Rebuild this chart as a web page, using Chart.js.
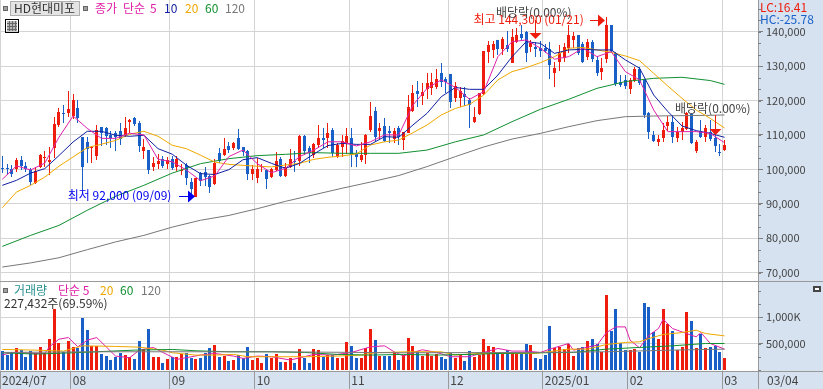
<!DOCTYPE html>
<html>
<head>
<meta charset="utf-8">
<title>HD현대미포</title>
<style>
html, body { margin: 0; padding: 0; background: #fff; overflow: hidden; }
canvas { display: block; }
</style>
<script src="https://cdn.jsdelivr.net/npm/chart.js@4"></script>
</head>
<body>
<canvas id="chart" width="823" height="389"></canvas>
<script>
const monthStarts = [0, 15, 36, 54, 74, 95, 115, 133, 153];
const monthLabels = ['2024/07', '08', '09', '10', '11', '12', '2025/01', '02', '03'];
const lastDate = '03/04';

const opens = [
  100500, 100400, 100200, 100000, 102700, 101000, 99800, 96150, 100600, 103400,
  102050, 106100, 112900, 116500, 116500, 115500, 117750, 109300, 108050, 106100,
  103900, 112400, 111900, 110000, 110700, 111000, 110000, 113800, 115000, 113350,
  105300, 105500, 100700, 101450, 103100, 101650, 102900, 100700, 99700, 101260,
  96400, 92100, 99000, 99300, 98060, 95640, 104650, 104260, 106800, 106100,
  109000, 106400, 105300, 98550, 97400, 100700, 99900, 97900, 99800, 103000,
  98200, 100800, 102400, 102400, 109700, 106100, 104200, 107100, 109000, 109200,
  111400, 103700, 106600, 107550, 109000, 104460, 102700, 104170, 111400, 117000,
  111150, 112600, 111200, 108700, 111900, 108500, 110650, 117000, 122800, 121400,
  123250, 123500, 123800, 127900, 126150, 127700, 120650, 120650, 121900, 120150,
  113750, 116000, 121800, 134000, 134700, 137600, 134900, 136150, 131000, 136900,
  139250, 140000, 135650, 135650, 135350, 135350, 134900, 127900, 131300, 132500,
  135400, 137600, 139050, 136300, 132750, 137100, 131800, 128400, 132000, 141950,
  133700, 125300, 126000, 123350, 125700, 129200, 126000, 116500, 110000, 108000,
  109200, 112700, 113850, 109200, 110950, 111600, 116100, 105400, 111150, 109300,
  110950, 109200, 105100, 105600
];
const closes = [
  100200, 100020, 98660, 102700, 100900, 100000, 96400, 99630, 104200, 103700,
  102700, 113200, 116800, 116300, 117600, 120200, 114850, 100800, 105900, 106600,
  111450, 110650, 109700, 109000, 109300, 108700, 111900, 114300, 113150, 106800,
  106500, 99900, 101800, 102400, 100900, 102600, 100400, 103100, 99900, 97400,
  94200, 97400, 96700, 97700, 94770, 101940, 102500, 105800, 105600, 107750,
  105800, 105100, 98550, 100000, 100000, 101100, 97100, 100000, 102400, 98060,
  100800, 103000, 102000, 109700, 105300, 104850, 107500, 109000, 108500, 110650,
  104650, 107100, 108240, 109700, 104170, 103700, 104170, 110000, 115500, 109500,
  111900, 108200, 110650, 111150, 109500, 110850, 118200, 122100, 121900, 122600,
  125000, 125300, 126150, 125300, 125500, 119700, 124200, 122800, 120900, 118600,
  115300, 122100, 134400, 136150, 136300, 134900, 137800, 134900, 138600, 139050,
  138260, 133700, 136600, 134900, 134400, 134400, 130300, 129400, 133700, 135650,
  138900, 138750, 133700, 131300, 136900, 132000, 128100, 129550, 141950, 134500,
  124700, 124500, 124200, 126000, 129200, 125200, 115800, 110750, 108240, 108800,
  111400, 113650, 109500, 110950, 111900, 116500, 107750, 108000, 109500, 112100,
  108700, 106800, 104850, 107100
];
const highs = [
  103900, 101570, 101280, 103200, 103900, 102250, 100300, 100800, 104500, 105450,
  106600, 115100, 117750, 118700, 122900, 121900, 120200, 109500, 109500, 106900,
  112900, 112400, 112400, 111000, 111000, 113600, 115100, 114600, 115300, 114000,
  108900, 105500, 103600, 104400, 103800, 103600, 104000, 103900, 101450, 101750,
  97400, 97500, 99300, 100800, 98350, 102900, 106100, 109200, 108000, 108000,
  111600, 106600, 105600, 101260, 103200, 101650, 100200, 100300, 105100, 103700,
  101750, 105900, 105400, 110000, 110000, 106800, 107600, 112900, 111900, 113400,
  111900, 107550, 110000, 111900, 111900, 105600, 108000, 110200, 119700, 118200,
  113400, 115000, 112600, 111900, 112600, 110950, 121600, 124500, 125700, 125000,
  127900, 127900, 129100, 131000, 126900, 127700, 125500, 123800, 123800, 120650,
  118200, 122300, 134500, 137400, 137400, 137600, 138600, 140300, 140700, 141000,
  141950, 140300, 137600, 137000, 137300, 136340, 137100, 131300, 136150, 136600,
  141950, 140000, 139050, 137100, 137800, 137600, 132950, 132300, 144300, 142000,
  134200, 127400, 127400, 126450, 129850, 129850, 126150, 116800, 111000, 110000,
  113400, 115500, 115800, 112400, 113850, 116800, 116300, 108500, 114300, 112900,
  114300, 110000, 107350, 108500
];
const lows = [
  99050, 98370, 97900, 99300, 99800, 99300, 95470, 95750, 100300, 100600,
  98370, 103200, 112400, 113400, 115300, 114550, 113400, 93700, 101800, 101800,
  102700, 106800, 107100, 106100, 105450, 107100, 109500, 110500, 112500, 105100,
  103000, 98700, 99500, 100200, 100500, 100200, 99900, 99500, 98250, 95450,
  92300, 92000, 95150, 95150, 93200, 95450, 101750, 103900, 104700, 105600,
  105600, 103900, 97000, 96900, 95900, 99200, 94400, 97400, 99600, 97900,
  97900, 100300, 99300, 101000, 104200, 101700, 103200, 106100, 106100, 106100,
  103500, 103200, 103700, 104460, 100800, 100800, 102200, 101550, 110950, 108000,
  108500, 107850, 107550, 107550, 107100, 105600, 110500, 116800, 118200, 118700,
  120300, 121600, 123250, 123800, 122100, 117700, 119700, 118000, 118400, 111900,
  113550, 115800, 121600, 131000, 132300, 133200, 133200, 134200, 130800, 136600,
  137600, 131300, 134200, 132700, 132700, 133700, 126150, 123800, 128700, 131300,
  133700, 135200, 133200, 130800, 131800, 131100, 127200, 126000, 130800, 134200,
  124200, 123800, 123250, 121900, 125500, 124500, 114800, 108700, 107950, 106900,
  108000, 111250, 107750, 108000, 108500, 111400, 107350, 104850, 109000, 108000,
  108240, 105100, 104000, 105400
];
// 거래량 (천주)
const volumes = [
  358, 283, 333, 409, 377, 252, 358, 315, 434, 315,
  585, 1151, 516, 333, 547, 440, 409, 981, 755, 459,
  459, 296, 264, 189, 252, 327, 283, 252, 208, 547,
  396, 774, 252, 252, 132, 208, 239, 252, 296, 327,
  220, 208, 220, 315, 421, 472, 252, 270, 170, 189,
  283, 233, 434, 189, 220, 138, 296, 233, 296, 145,
  145, 220, 126, 396, 220, 126, 396, 371, 252, 283,
  283, 233, 233, 528, 453, 220, 220, 409, 786, 560,
  264, 264, 264, 315, 189, 283, 604, 453, 358, 264,
  315, 264, 296, 252, 208, 327, 220, 283, 170, 358,
  252, 283, 585, 453, 434, 296, 296, 371, 333, 296,
  296, 491, 472, 233, 208, 283, 830, 421, 440, 396,
  484, 264, 409, 434, 547, 585, 484, 333, 1415, 736,
  1151, 516, 377, 377, 396, 346, 1264, 1189, 723, 585,
  1151, 881, 736, 371, 434, 1101, 925, 421, 686, 421,
  440, 459, 346, 227
];

// 가격 이동평균
const maDays = [
  0, 3, 6, 9, 12, 15, 18, 21, 24, 27, 30, 33, 36, 39, 42, 45, 48, 51,
  54, 57, 60, 63, 66, 69, 72, 75, 78, 81, 84, 87, 90, 93, 96, 99, 102,
  105, 108, 111, 114, 117, 120, 123, 126, 129, 132, 135, 138, 141, 144,
  147, 150, 153
];
const ma5 = [
  97100, 101000, 99800, 101800, 109300, 115500, 111900, 109000, 109000, 110500,
  110000, 102900, 102200, 99800, 96700, 98060, 103700, 105600, 101650, 99000,
  100300, 103700, 105600, 108000, 108000, 106800, 108000, 110000, 110000, 118700,
  123550, 126000, 123800, 120350, 122600, 132750, 137100, 137600, 135200, 132000,
  132750, 135200, 132750, 134200, 128400, 126000, 117250, 110950, 110950, 110950,
  110450, 107750
];
const ma10 = [
  95350, 96800, 98900, 100200, 104000, 107950, 111050, 111050, 109900, 109600,
  109900, 106000, 104400, 101200, 98740, 98500, 99900, 102800, 103400, 101750,
  100300, 101750, 104460, 106900, 107550, 107250, 107250, 109500, 109300, 112900,
  116300, 121100, 123800, 123250, 123250, 127400, 132750, 137100, 136600, 133700,
  134700, 134900, 134700, 134700, 131800, 129400, 121600, 116800, 112600, 111250,
  110450, 109300
];
const ma20 = [
  88850, 93400, 95350, 97750, 100900, 103600, 106300, 107300, 108400, 110200,
  111050, 109600, 107000, 106000, 104100, 102100, 101450, 101150, 100900, 100700,
  101260, 101750, 102900, 103500, 103900, 104460, 107070, 108000, 108500, 110650,
  112900, 115800, 117700, 118900, 121600, 126000, 128400, 129550, 131000, 132750,
  135200, 135400, 134700, 134000, 132950, 131600, 127900, 124200, 120650, 117250,
  114800, 112000
];
const longMaDays = [
  0, 6, 12, 18, 24, 30, 36, 42, 48, 54, 60, 66, 72, 78, 84, 90, 96, 102,
  108, 114, 120, 126, 132, 138, 144, 150, 153
];
const ma60 = [
  77600, 80800, 83700, 88100, 92150, 95350, 98900, 101650, 103100, 103970,
  104360, 104850, 104650, 104650, 104650, 105600, 108000, 110000, 113850, 117450,
  120350, 123550, 125500, 126450, 126750, 125800, 124700
];
const ma120 = [
  71600, 72800, 74300, 76650, 78900, 80800, 83200, 85200, 86600, 88550,
  90700, 92600, 94500, 96300, 98200, 100800, 103700, 106500, 108800, 110450,
  112400, 114150, 115300, 115500, 115600, 115700, 115800
];

// 거래량 이동평균
const volMa5Days = [
  0, 2, 7, 9, 10, 12, 14, 16, 18, 20, 22, 24, 27, 29, 32, 34, 37, 42, 45, 49,
  51, 54, 57, 61, 64, 66, 70, 74, 78, 81, 83, 85, 87, 89, 92, 95, 99, 102, 105,
  108, 111, 114, 116, 120, 121, 126, 128, 130, 132, 133, 135, 137, 139, 140,
  142, 145, 147, 148, 150, 153
];
const volMa5 = [
  283, 333, 315, 315, 440, 585, 616, 440, 566, 616, 440, 264, 233, 377, 428, 333, 201, 283, 315, 264,
  220, 264, 252, 189, 252, 296, 283, 333, 440, 459, 346, 264, 333, 384, 333, 252, 252, 333, 409,
  359, 359, 333, 396, 503, 377, 472, 711, 818, 818, 566, 421, 660, 786, 962,
  786, 692, 629, 711, 503, 396
];
const volMa20Days = [
  0, 7, 13, 17, 24, 29, 34, 36, 41, 45, 49, 52, 57, 64, 71, 76, 79, 86, 93, 96,
  101, 106, 113, 120, 124, 128, 132, 135, 137, 140, 144, 147, 149, 153
];
const volMa20 = [
  390, 377, 359, 459, 447, 434, 377, 327, 283, 283, 296, 252, 252, 252, 264, 283, 327, 346, 346, 283,
  315, 315, 315, 396, 396, 484, 522, 535, 598, 673, 711, 755, 692, 648
];
const volMa60Days = [0, 7, 15, 28, 36, 41, 48, 57, 64, 71, 78, 85, 92, 99, 106, 114, 121, 128, 135, 142, 149, 153];
const volMa60 = [327, 302, 327, 377, 390, 365, 346, 346, 333, 296, 283, 296, 283, 296, 315, 327, 333, 396, 428, 459, 503, 503];
const volMa120Days = [0, 21, 57, 85, 114, 128, 142, 153];
const volMa120 = [333, 346, 346, 327, 333, 346, 377, 396];

const priceTicks = [140000, 130000, 120000, 110000, 100000, 90000, 80000, 70000];
const volumeTicks = [1000, 500];

const RED = '#ee1c0c';
const BLUE = '#1860c8';
const MAGENTA = '#e020a8';
const NAVY = '#1020a0';
const ORANGE = '#f0a800';
const GREEN = '#109030';
const GRAY = '#787878';
const GRID = '#d4d4d4';
const AXIS = '#999999';
const PANEL = '#d6e2f0';
const FONT = '"Noto Sans CJK KR", "Noto Sans", sans-serif';

const days = opens.map((_, i) => i);
const candleColor = i => (closes[i] >= opens[i] ? RED : BLUE);
const points = (xs, ys) => xs.map((x, i) => ({ x: x, y: ys[i] }));

function lineSet(xs, ys, color, axis) {
  return {
    type: 'line', data: points(xs, ys), yAxisID: axis,
    borderColor: color, borderWidth: 1, pointRadius: 0, tension: 0, order: 0
  };
}

function barSet(data, colors, axis, thickness, order) {
  return {
    type: 'bar', data: data, yAxisID: axis,
    backgroundColor: colors, borderWidth: 0, inflateAmount: 0,
    barThickness: thickness, grouped: false, order: order
  };
}

// 축 라벨 때문에 생기는 여백 제거
function noPadding(scale) {
  scale.paddingTop = 0;
  scale.paddingBottom = 0;
  scale.paddingLeft = 0;
  scale.paddingRight = 0;
}

const candleColors = days.map(candleColor);

// 막대를 픽셀에 맞춰서 번지지 않게
const snapBars = {
  id: 'snapBars',
  afterDatasetsUpdate(chart) {
    chart.getSortedVisibleDatasetMetas().forEach(meta => {
      if (meta.type !== 'bar') return;
      meta.data.forEach(bar => {
        bar.x = Math.floor(bar.x) + 0.5;
        const top = Math.round(Math.min(bar.y, bar.base));
        let bottom = Math.round(Math.max(bar.y, bar.base));
        if (bottom === top) bottom = top + 1;
        bar.y = top;
        bar.base = bottom;
      });
    });
  }
};

const panels = {
  id: 'panels',
  beforeDraw(chart) {
    const { ctx, chartArea: a, width, height } = chart;
    ctx.save();
    ctx.fillStyle = '#fff';
    ctx.fillRect(0, 0, width, height);
    ctx.fillStyle = PANEL;
    ctx.fillRect(a.right, 0, width - a.right, height);
    ctx.fillRect(0, a.bottom, width, height - a.bottom);
    ctx.restore();
  },
  afterDraw(chart) {
    const { ctx, chartArea: a, width, height, scales } = chart;
    ctx.save();
    // 패널 구분선
    ctx.fillStyle = AXIS;
    ctx.fillRect(0, 281, width, 1);
    ctx.fillRect(a.right, a.bottom, width - a.right, 1);
    ctx.fillRect(a.right, 0, 1, height);
    // 보조 눈금
    ctx.fillStyle = '#808080';
    for (let v = 70000; v < 149000; v += 10000 / 3) {
      const y = Math.round(scales.y.getPixelForValue(v));
      if (y > 2 && y < 280) ctx.fillRect(a.right, y, 3, 1);
    }
    for (let v = 0; v <= 1500; v += 250) {
      ctx.fillRect(a.right, Math.round(scales.yVol.getPixelForValue(v)), 3, 1);
    }

    ctx.textBaseline = 'middle';
    ctx.textAlign = 'left';
    const text = (s, x, y, color, size) => {
      ctx.font = (size || 12) + 'px ' + FONT;
      ctx.fillStyle = color;
      ctx.fillText(s, x, y);
    };
    const square = (x, y) => {
      ctx.fillStyle = '#a0a0a0';
      ctx.fillRect(x, y, 5, 5);
      ctx.strokeStyle = '#666';
      ctx.lineWidth = 1;
      ctx.strokeRect(x + 0.5, y + 0.5, 4, 4);
    };

    // 종목명, 가격 범례
    square(3, 6);
    ctx.fillStyle = '#e4e4e4';
    ctx.fillRect(10, 1, 70, 15);
    ctx.strokeStyle = '#b0b0b0';
    ctx.strokeRect(10.5, 1.5, 69, 14);
    text('HD현대미포', 14, 8.5, '#333');
    square(83, 6);
    text('종가', 95, 8.5, MAGENTA);
    text('단순', 123, 8.5, MAGENTA);
    text('5', 150, 8.5, MAGENTA);
    text('10', 164, 8.5, NAVY);
    text('20', 185, 8.5, ORANGE);
    text('60', 205, 8.5, GREEN);
    text('120', 225, 8.5, GRAY);

    // 표 아이콘
    ctx.strokeStyle = '#000';
    ctx.strokeRect(5.5, 19.5, 13, 13);
    ctx.fillStyle = '#b8b8b8';
    ctx.fillRect(7, 21, 10, 10);
    ctx.strokeStyle = '#666';
    ctx.beginPath();
    [9.5, 12.5, 15.5].forEach(x => { ctx.moveTo(x, 21); ctx.lineTo(x, 31); });
    [23.5, 26.5, 29.5].forEach(y => { ctx.moveTo(7, y); ctx.lineTo(17, y); });
    ctx.stroke();

    // LC / HC
    text('LC:16.41', 760, 7, RED);
    text('HC:-25.78', 760, 19, BLUE);

    // 거래량 범례
    square(3, 288);
    text('거래량', 14, 290, '#2a9090');
    text('단순 5', 58, 290, MAGENTA);
    text('20', 100, 290, ORANGE);
    text('60', 120, 290, GREEN);
    text('120', 141, 290, GRAY);
    text('227,432주(69.59%)', 4, 303, '#333');

    // 닫기 버튼
    ctx.fillStyle = '#444';
    ctx.fillRect(813, 286, 8, 6);
    ctx.fillStyle = '#fff';
    ctx.fillRect(815, 288, 4, 2);

    text(lastDate, 767, 380.5, '#444');

    const arrowRight = (x1, x2, y, color) => {
      ctx.fillStyle = color;
      ctx.fillRect(x1, y, x2 - x1 - 6, 1);
      ctx.beginPath();
      ctx.moveTo(x2 - 7, y - 5.5);
      ctx.lineTo(x2, y + 0.5);
      ctx.lineTo(x2 - 7, y + 6.5);
      ctx.fill();
    };
    const arrowDown = (x, y1, y2) => {
      ctx.fillStyle = RED;
      ctx.fillRect(x, y1, 1, y2 - y1 - 4);
      ctx.beginPath();
      ctx.moveTo(x - 5.5, y2 - 6);
      ctx.lineTo(x + 6.5, y2 - 6);
      ctx.lineTo(x + 0.5, y2);
      ctx.fill();
    };

    // 최고, 최저
    const hiX = scales.x.getPixelForValue(128);
    const hiY = scales.y.getPixelForValue(144300);
    text('최고 144,300 (01/21)', hiX - 133, hiY + 2.5, RED);
    arrowRight(Math.round(hiX - 16), Math.round(hiX - 1), Math.round(hiY + 3), RED);
    const loX = scales.x.getPixelForValue(41);
    const loY = scales.y.getPixelForValue(92000);
    text('최저 92,000 (09/09)', loX - 128, loY - 1, '#0000f0');
    arrowRight(Math.round(loX - 17), Math.round(loX - 1), Math.round(loY - 1), '#0000f0');

    // 배당락
    [[113, 496, 12, 20, 39], [151, 675, 108, 115, 135]].forEach(m => {
      text('배당락(0.00%)', m[1], m[2], '#444');
      arrowDown(Math.floor(scales.x.getPixelForValue(m[0])), m[3], m[4]);
    });
    ctx.restore();
  }
};

new Chart(document.getElementById('chart'), {
  data: {
    datasets: [
      lineSet(maDays, ma5, MAGENTA, 'y'),
      lineSet(maDays, ma10, NAVY, 'y'),
      lineSet(maDays, ma20, ORANGE, 'y'),
      lineSet(longMaDays, ma60, GREEN, 'y'),
      lineSet(longMaDays, ma120, GRAY, 'y'),
      lineSet(volMa120Days, volMa120, GRAY, 'yVol'),
      lineSet(volMa60Days, volMa60, GREEN, 'yVol'),
      lineSet(volMa20Days, volMa20, ORANGE, 'yVol'),
      lineSet(volMa5Days, volMa5, MAGENTA, 'yVol'),
      barSet(days.map(i => ({ x: i, y: [opens[i], closes[i]] })), candleColors, 'y', 3, 1),
      barSet(days.map(i => ({ x: i, y: [lows[i], highs[i]] })), candleColors, 'y', 1, 2),
      barSet(days.map(i => ({ x: i, y: volumes[i] })), candleColors, 'yVol', 3, 1)
    ]
  },
  options: {
    responsive: false,
    animation: false,
    layout: { padding: 0 },
    plugins: { legend: { display: false }, tooltip: { enabled: false } },
    scales: {
      x: {
        type: 'linear',
        offset: false,
        min: -0.487,
        max: 160.1,
        afterFit(scale) { scale.height = 18; noPadding(scale); },
        afterBuildTicks(scale) {
          scale.ticks = monthStarts.map(d => ({ value: d === 0 ? -0.487 : d - 0.5 }));
        },
        grid: { color: GRID, tickColor: AXIS, tickLength: 18, offset: false },
        border: { color: AXIS },
        ticks: {
          autoSkip: false,
          maxRotation: 0,
          align: 'start',
          padding: -16,
          labelOffset: 2,
          color: '#444',
          font: { family: FONT, size: 12 },
          callback(value, index) { return monthLabels[index]; }
        }
      },
      y: {
        position: 'right',
        stack: 'panels',
        stackWeight: 281,
        min: 67541,
        max: 149215,
        afterFit(scale) { scale.width = 65; noPadding(scale); },
        afterBuildTicks(scale) { scale.ticks = priceTicks.map(v => ({ value: v })); },
        grid: { color: GRID, tickColor: '#808080', tickLength: 5 },
        border: { color: AXIS },
        ticks: {
          padding: 3,
          color: '#444',
          font: { family: FONT, size: 11 },
          callback(value) { return value.toLocaleString('en-US'); }
        }
      },
      yVol: {
        position: 'right',
        stack: 'panels',
        stackWeight: 90,
        min: -19,
        max: 1689,
        afterFit(scale) { scale.width = 65; noPadding(scale); },
        afterBuildTicks(scale) { scale.ticks = volumeTicks.map(v => ({ value: v })); },
        grid: { color: GRID, tickColor: '#808080', tickLength: 5 },
        border: { color: AXIS },
        ticks: {
          padding: 3,
          color: '#444',
          font: { family: FONT, size: 11 },
          callback(value) { return value === 1000 ? '1,000K' : '500,000'; }
        }
      }
    }
  },
  plugins: [snapBars, panels]
});
</script>
</body>
</html>
